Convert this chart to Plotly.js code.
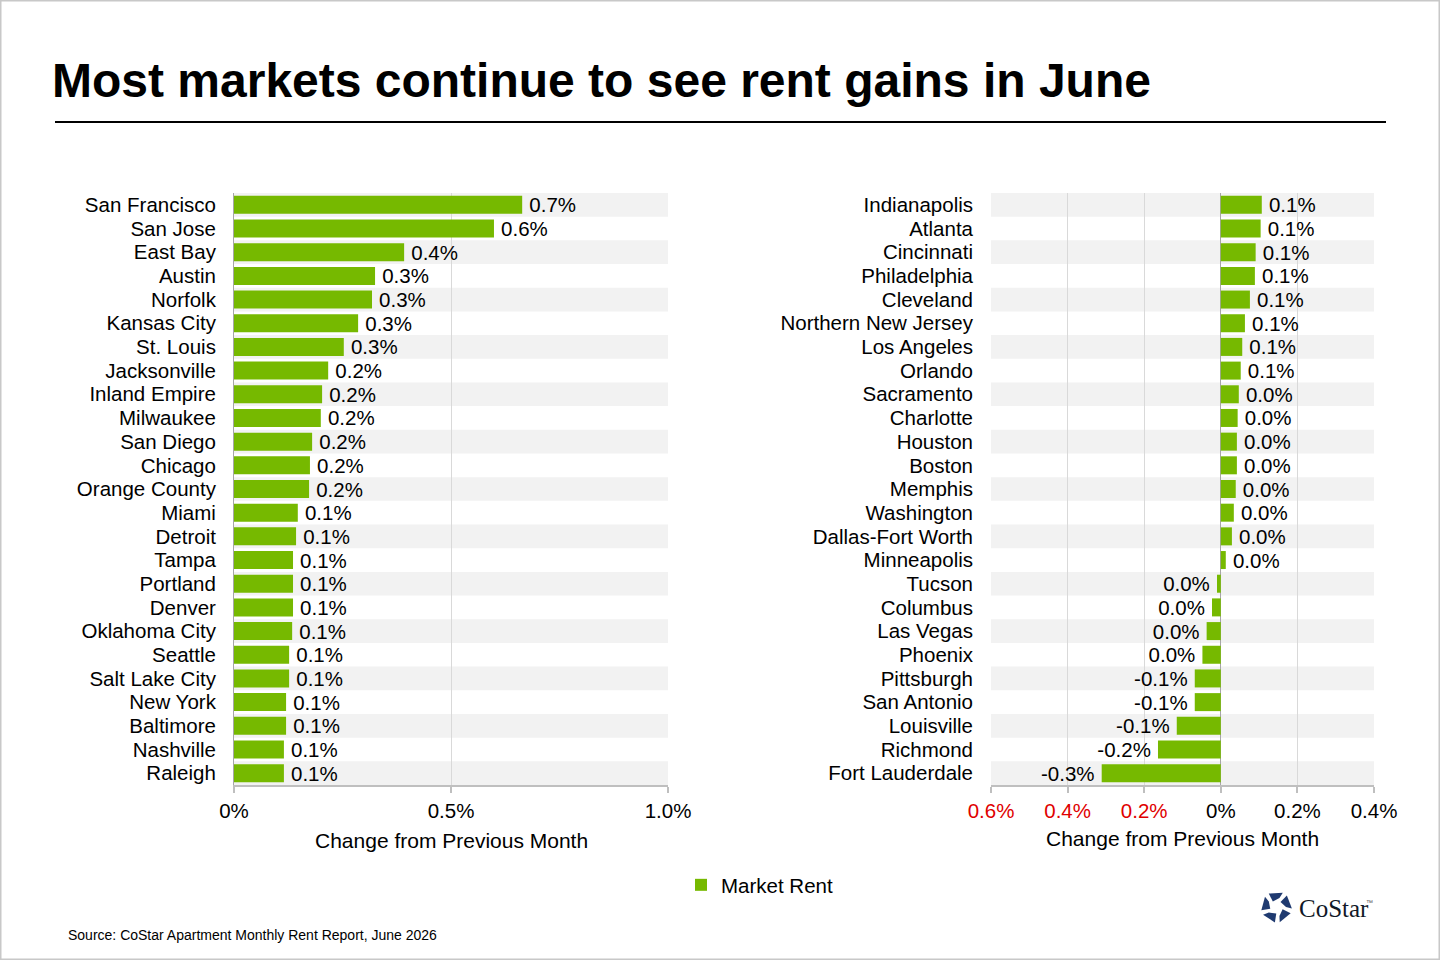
<!DOCTYPE html>
<html>
<head>
<meta charset="utf-8">
<script src="https://cdn.plot.ly/plotly-3.0.1.min.js"></script>
<style>
  html, body { margin: 0; padding: 0; background: #fff; }
  #chart { width: 1440px; height: 960px; }
</style>
</head>
<body>
<div id="chart"></div>
<script>
// Monthly change in market rent (%), markets with the largest gains
const leftMarkets = [
  "San Francisco", "San Jose", "East Bay", "Austin", "Norfolk", "Kansas City",
  "St. Louis", "Jacksonville", "Inland Empire", "Milwaukee", "San Diego", "Chicago",
  "Orange County", "Miami", "Detroit", "Tampa", "Portland", "Denver",
  "Oklahoma City", "Seattle", "Salt Lake City", "New York", "Baltimore", "Nashville", "Raleigh"
];
const leftChange = [
  0.664, 0.599, 0.392, 0.325, 0.318, 0.286,
  0.253, 0.217, 0.203, 0.200, 0.180, 0.175,
  0.173, 0.147, 0.143, 0.136, 0.136, 0.136,
  0.134, 0.127, 0.127, 0.120, 0.120, 0.115, 0.115
];

// Monthly change in market rent (%), remaining markets
const rightMarkets = [
  "Indianapolis", "Atlanta", "Cincinnati", "Philadelphia", "Cleveland", "Northern New Jersey",
  "Los Angeles", "Orlando", "Sacramento", "Charlotte", "Houston", "Boston",
  "Memphis", "Washington", "Dallas-Fort Worth", "Minneapolis", "Tucson", "Columbus",
  "Las Vegas", "Phoenix", "Pittsburgh", "San Antonio", "Louisville", "Richmond", "Fort Lauderdale"
];
const rightChange = [
  0.107, 0.104, 0.091, 0.089, 0.076, 0.063,
  0.056, 0.052, 0.047, 0.044, 0.042, 0.042,
  0.039, 0.034, 0.029, 0.013, -0.010, -0.023,
  -0.037, -0.048, -0.068, -0.068, -0.115, -0.164, -0.311
];

// Axis ticks
const leftTickVals = [0, 0.5, 1.0];
const leftTickText = ["0%", "0.5%", "1.0%"];
const rightTickVals = [-0.6, -0.4, -0.2, 0, 0.2, 0.4];
const rightTickText = ["0.6%", "0.4%", "0.2%", "0%", "0.2%", "0.4%"];

const seriesName = "Market Rent";
const titleText = "Most markets continue to see rent gains in June";
const axisTitleText = "Change from Previous Month";
const sourceText = "Source: CoStar Apartment Monthly Rent Report, June 2026";

// ---- helpers ----
const W = 1440, H = 960;
const px = x => x / W;
const py = y => 1 - y / H;
const FONT = "Liberation Sans, Arial, sans-serif";
const GREEN = "#76b900";
const RED = "#e00000";

// One-decimal percent label with a little breathing room from the bar end
function fmtPct(v) {
  let s = v.toFixed(1);
  if (s === "-0.0") s = "0.0";
  return v < 0 ? s + "%\u2009" : "\u2009" + s + "%";
}

const rightTickLabels = rightTickVals.map((v, i) =>
  v < 0 ? `<span style="color:${RED}">${rightTickText[i]}</span>` : rightTickText[i]);

const traces = [
  {
    type: "bar", orientation: "h", name: seriesName,
    y: leftMarkets, x: leftChange,
    text: leftChange.map(fmtPct), textposition: "outside",
    textfont: { family: FONT, size: 20.5, color: "#000" },
    cliponaxis: false, constraintext: "none",
    marker: { color: GREEN },
    xaxis: "x", yaxis: "y", showlegend: true, hoverinfo: "y+x"
  },
  {
    type: "bar", orientation: "h", name: seriesName,
    y: rightMarkets, x: rightChange,
    text: rightChange.map(fmtPct), textposition: "outside",
    textfont: { family: FONT, size: 20.5, color: "#000" },
    cliponaxis: false, constraintext: "none",
    marker: { color: GREEN },
    xaxis: "x2", yaxis: "y2", showlegend: false, hoverinfo: "y+x"
  }
];

// Alternating row bands
const shapes = [];
function bands(markets, xr, yr) {
  markets.forEach((m, i) => {
    if (i % 2 === 0) {
      shapes.push({
        type: "rect", layer: "below", xref: xr + " domain", yref: yr,
        x0: 0, x1: 1, y0: i - 0.5, y1: i + 0.5,
        fillcolor: "#f2f2f2", line: { width: 0 }
      });
    }
  });
}
bands(leftMarkets, "x", "y");
bands(rightMarkets, "x2", "y2");

// Rule under the headline
shapes.push({
  type: "line", xref: "paper", yref: "paper",
  x0: px(55), x1: px(1386), y0: py(122), y1: py(122),
  line: { color: "#000", width: 2 }
});
// Frame
shapes.push({
  type: "rect", xref: "paper", yref: "paper", x0: 0, x1: 1, y0: 0, y1: 1,
  line: { color: "#c8c8c8", width: 3 }, fillcolor: "rgba(0,0,0,0)"
});

// CoStar pinwheel mark, built from five blocks around a centre
(function logo() {
  const cx = 1276.5, cy = 907, R = 15.5, r = 6.5;
  const rad = d => d * Math.PI / 180;
  for (let k = 0; k < 5; k++) {
    const a = -90 + 72 * k;
    const pts = [
      [a - 30, R], [a + 24, R], [a + 18, r + 3], [a - 34, r]
    ].map(([ang, rr]) => [cx + rr * Math.cos(rad(ang)), cy + rr * Math.sin(rad(ang))]);
    const path = pts.map((p, i) => (i ? "L" : "M") + px(p[0]).toFixed(5) + "," + py(p[1]).toFixed(5)).join(" ") + " Z";
    shapes.push({
      type: "path", xref: "paper", yref: "paper", path: path,
      fillcolor: "#1f3a70", line: { width: 0 }
    });
  }
})();

const annotations = [
  {
    text: titleText, xref: "paper", yref: "paper",
    x: px(50), y: py(80), xanchor: "left", yanchor: "middle", showarrow: false,
    font: { family: FONT, size: 48, color: "#000", weight: 700 }
  },
  {
    text: axisTitleText, xref: "paper", yref: "paper",
    x: px(451), y: py(840), xanchor: "center", yanchor: "middle", showarrow: false,
    font: { family: FONT, size: 21, color: "#000" }
  },
  {
    text: axisTitleText, xref: "paper", yref: "paper",
    x: px(1182), y: py(838), xanchor: "center", yanchor: "middle", showarrow: false,
    font: { family: FONT, size: 21, color: "#000" }
  },
  {
    text: sourceText, xref: "paper", yref: "paper",
    x: px(66), y: py(935), xanchor: "left", yanchor: "middle", showarrow: false,
    font: { family: FONT, size: 14, color: "#000" }
  },
  {
    text: "CoStar", xref: "paper", yref: "paper",
    x: px(1297), y: py(908), xanchor: "left", yanchor: "middle", showarrow: false,
    font: { family: "Liberation Serif, Times New Roman, serif", size: 25, color: "#111827" }
  },
  {
    text: "™", xref: "paper", yref: "paper",
    x: px(1364), y: py(902), xanchor: "left", yanchor: "middle", showarrow: false,
    font: { family: FONT, size: 7, color: "#555" }
  }
];

const xCommon = {
  showline: true, linecolor: "#bfbfbf", linewidth: 2,
  ticks: "outside", ticklen: 6, tickwidth: 2, tickcolor: "#bfbfbf",
  showgrid: true, gridcolor: "#d9d9d9", gridwidth: 1,
  tickfont: { family: FONT, size: 20.5, color: "#000" },
  fixedrange: true
};
const yCommon = {
  type: "category", autorange: "reversed", ticks: "",
  tickfont: { family: FONT, size: 20.5, color: "#000" },
  showgrid: false, zeroline: false, fixedrange: true
};

const layout = {
  width: W, height: H, autosize: false,
  margin: { l: 0, r: 0, t: 0, b: 0, pad: 0 },
  paper_bgcolor: "#fff", plot_bgcolor: "#fff",
  font: { family: FONT, color: "#000" },
  bargap: 0.24,
  showlegend: true,
  legend: {
    orientation: "h", x: px(681), y: py(885), xanchor: "left", yanchor: "middle",
    font: { family: FONT, size: 20.5, color: "#000" }, bgcolor: "rgba(0,0,0,0)"
  },
  xaxis: Object.assign({}, xCommon, {
    domain: [px(234), px(668)], range: [0, 1.0], anchor: "y",
    tickvals: leftTickVals, ticktext: leftTickText, zeroline: false
  }),
  yaxis: Object.assign({}, yCommon, {
    domain: [py(785), py(193)], anchor: "x",
    tickmode: "array", tickvals: leftMarkets, ticktext: leftMarkets,
    showline: true, linecolor: "#a6a6a6", linewidth: 1, ticklabelstandoff: 13
  }),
  xaxis2: Object.assign({}, xCommon, {
    domain: [px(991), px(1374)], range: [-0.6, 0.4], anchor: "y2",
    tickvals: rightTickVals, ticktext: rightTickLabels,
    zeroline: true, zerolinecolor: "#a6a6a6", zerolinewidth: 1
  }),
  yaxis2: Object.assign({}, yCommon, {
    domain: [py(785), py(193)], anchor: "x2",
    tickmode: "array", tickvals: rightMarkets, ticktext: rightMarkets,
    showline: false, ticklabelstandoff: 17
  }),
  shapes: shapes,
  annotations: annotations
};

Plotly.newPlot("chart", traces, layout, { displayModeBar: false, staticPlot: true });
</script>
</body>
</html>
